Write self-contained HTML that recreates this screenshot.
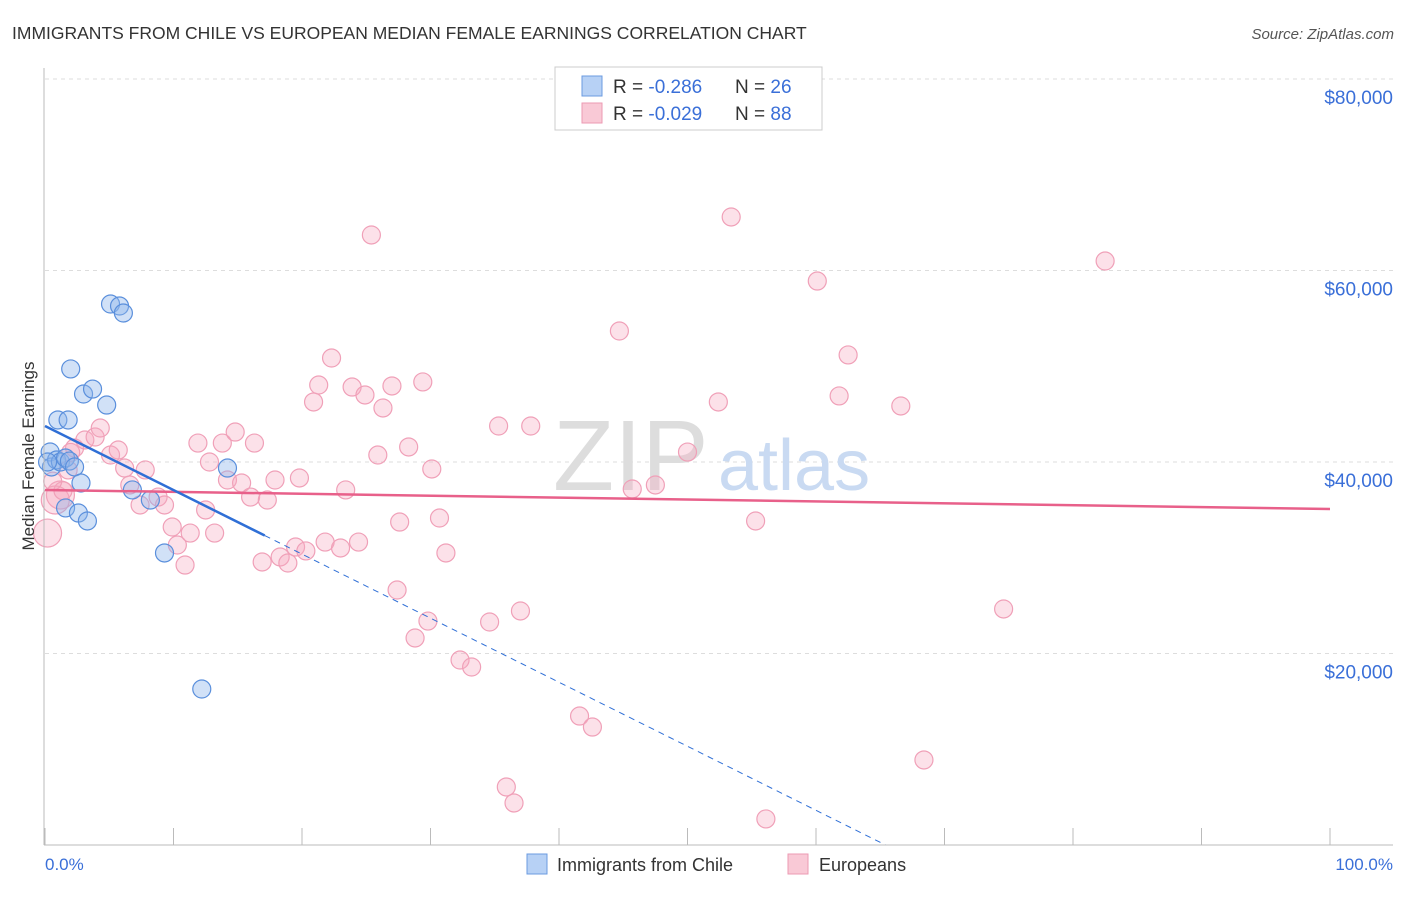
<!DOCTYPE html>
<html><head><meta charset="utf-8"><style>
body{margin:0;background:#fff;font-family:"Liberation Sans",sans-serif;}
svg text{font-family:"Liberation Sans",sans-serif;}
</style></head><body>
<svg width="1406" height="892" xmlns="http://www.w3.org/2000/svg" id="chart">
<text x="12" y="39" font-size="17.5" fill="#333">IMMIGRANTS FROM CHILE VS EUROPEAN MEDIAN FEMALE EARNINGS CORRELATION CHART</text>
<text x="1394" y="39" font-size="15" fill="#555" text-anchor="end" font-style="italic">Source: ZipAtlas.com</text>
<g id="grid"></g>
<text x="553" y="490" font-size="100" fill="#ddd" font-family="Liberation Serif">ZIP</text>
<text x="718" y="490" font-size="72" fill="#c9daf2">atlas</text>
<g id="marks"></g>
<line x1="44" y1="68" x2="44" y2="845" stroke="#bbb"/>
<line x1="44" y1="845" x2="1393" y2="845" stroke="#bbb"/>
<text x="45" y="870" font-size="17" fill="#3a6fd8">0.0%</text>
<text x="1393" y="870" font-size="17" fill="#3a6fd8" text-anchor="end">100.0%</text>
<text transform="translate(34,456) rotate(-90)" font-size="17" fill="#333" text-anchor="middle">Median Female Earnings</text>
<g>
<rect x="555" y="67" width="267" height="63" fill="#fff" stroke="#ccc"/>
<rect x="582" y="76" width="20" height="20" fill="#b7d1f5" stroke="#6b9be0"/>
<rect x="582" y="103" width="20" height="20" fill="#f9c9d6" stroke="#ec9ab3"/>
<text x="613" y="93" font-size="19" fill="#333">R = <tspan fill="#3a6fd8">-0.286</tspan></text>
<text x="735" y="93" font-size="19" fill="#333">N = <tspan fill="#3a6fd8">26</tspan></text>
<text x="613" y="120" font-size="19" fill="#333">R = <tspan fill="#3a6fd8">-0.029</tspan></text>
<text x="735" y="120" font-size="19" fill="#333">N = <tspan fill="#3a6fd8">88</tspan></text>
</g>
<g>
<rect x="527" y="854" width="20" height="20" fill="#b7d1f5" stroke="#6b9be0"/>
<text x="557" y="871" font-size="18" fill="#333">Immigrants from Chile</text>
<rect x="788" y="854" width="20" height="20" fill="#f9c9d6" stroke="#ec9ab3"/>
<text x="819" y="871" font-size="18" fill="#333">Europeans</text>
</g>
</svg>
<script>
const yTicks=[20000,40000,60000,80000];
const yTickLabels=["$20,000","$40,000","$60,000","$80,000"];
const xTicks=[0,10,20,30,40,50,60,70,80,90,100];
const chileX=[0.4,0.5,0.9,1.2,1.6,1.9,2.3,1.0,1.8,2.0,3.0,3.7,4.8,5.1,5.8,6.1,2.8,1.6,2.6,3.3,6.8,8.2,9.3,14.2,12.2,0.2];
const chileY=[41045,39480,40210,40000,40420,40100,39480,44390,44390,49720,47100,47620,45950,56500,56290,55560,37810,35200,34670,33840,37080,36030,30500,39370,16290,40000];
const euroX=[0.2,1.2,0.8,1.8,2.3,3.1,3.9,4.3,5.1,5.7,6.2,6.6,7.4,7.8,8.8,9.3,9.9,10.3,10.9,11.3,11.9,12.5,12.8,13.2,13.8,14.2,14.8,15.3,16.0,16.3,16.9,17.3,17.9,18.3,18.9,19.5,19.8,20.3,20.9,21.3,21.8,22.3,23.0,23.4,23.9,24.4,24.9,25.4,25.9,26.3,27.0,27.4,27.6,28.3,28.8,29.4,29.8,30.1,30.7,31.2,32.3,33.2,34.6,35.3,35.9,36.5,37.0,37.8,41.6,42.6,44.7,45.7,47.5,50.0,52.4,53.4,55.3,56.1,60.1,61.8,62.5,66.6,68.4,74.6,82.5,1.4,0.6,2.0];
const euroY=[32580,36550,36030,39170,41460,42300,42610,43550,40730,41250,39370,37600,35510,39170,36340,35510,33210,31330,29240,32580,41980,34990,40000,32580,41980,38120,43130,37810,36340,41980,29560,36030,38120,30080,29450,31120,38330,30710,46270,48040,31640,50860,31020,37080,47830,31640,47000,63710,40730,45640,47940,26630,33730,41570,21620,48360,23390,39270,34150,30500,19320,18590,23290,43760,6060,4390,24440,43760,13470,12320,53680,37180,37600,41040,46270,65590,33840,2720,58900,46900,51180,45850,8880,24650,60990,37000,38000,41000];
const chileTrend=[43760,-669];   // intercept, slope per %
const chileTrendSolidEnd=[17.1]; // % where solid fit ends
const euroTrend=[37080,-19.9];
const X=v=>45+v*12.85, Y=v=>845-v*191.5/20000;
const NS="http://www.w3.org/2000/svg";
const grid=document.getElementById('grid'), marks=document.getElementById('marks');
function mk(tag,attrs,parent){const e=document.createElementNS(NS,tag);for(const k in attrs)e.setAttribute(k,attrs[k]);parent.appendChild(e);return e;}
yTicks.forEach((t,i)=>{
 const l=mk('line',{x1:45,x2:1393,y1:Y(t),y2:Y(t),stroke:'#ddd','stroke-dasharray':'4,4'},grid);
 
 
 const tx=mk('text',{x:1393,y:Y(t)+25,'font-size':19,fill:'#3a6fd8','text-anchor':'end'},grid);
 tx.textContent=yTickLabels[i];
 
 
});
xTicks.forEach(t=>{
 const l=mk('line',{x1:X(t),x2:X(t),y1:828,y2:845,stroke:'#bbb'},grid);
 
 
});
euroX.forEach((x,i)=>{
 const c=mk('circle',{cx:X(x),cy:Y(euroY[i]),r:(i<3?14:9),fill:'rgba(246,170,192,0.35)',stroke:'#f0a0b8','stroke-width':1.2},marks);
 
 
});
chileX.forEach((x,i)=>{
 const c=mk('circle',{cx:X(x),cy:Y(chileY[i]),r:9,fill:'rgba(140,180,235,0.4)',stroke:'#5a8fdc','stroke-width':1.2},marks);
 
 
});
const ey=x=>euroTrend[0]+euroTrend[1]*x;
const el=mk('line',{x1:X(0),y1:Y(ey(0)),x2:X(100),y2:Y(ey(100)),stroke:'#e8608a','stroke-width':2.5},marks);


const cy=x=>chileTrend[0]+chileTrend[1]*x;
const xmax=chileTrendSolidEnd[0], xz=-chileTrend[0]/chileTrend[1];
const cl=mk('line',{x1:X(0),y1:Y(cy(0)),x2:X(xmax),y2:Y(cy(xmax)),stroke:'#2f6fd6','stroke-width':2.5},marks);


const cd=mk('line',{x1:X(xmax),y1:Y(cy(xmax)),x2:X(xz),y2:Y(0),stroke:'#2f6fd6','stroke-width':1,'stroke-dasharray':'6,5'},marks);


</script>
</body></html>
